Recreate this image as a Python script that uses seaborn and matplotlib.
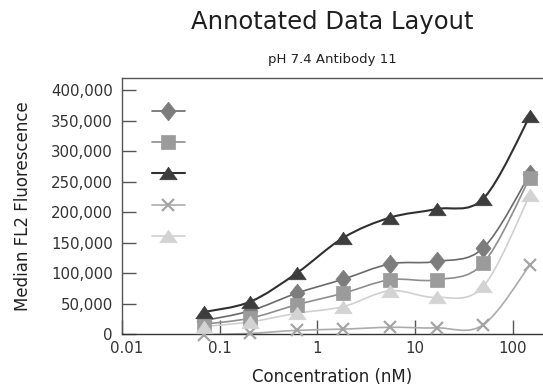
import numpy as np
import pandas as pd
import matplotlib
matplotlib.use("Agg")
import matplotlib.pyplot as plt
from matplotlib.path import Path
from matplotlib.patches import PathPatch
from matplotlib.lines import Line2D
from matplotlib.transforms import ScaledTranslation
import matplotlib.ticker as mticker
import seaborn as sns

# ---- data ----
conc = [0.0686, 0.206, 0.617, 1.85, 5.56, 16.7, 50.0, 150.0]
series_names = ["s1", "s2", "s3", "s4", "s5"]
s1_diamond = [22000, 38000, 67000, 90000, 115000, 119000, 141000, 262000]
s2_square = [16000, 26000, 48000, 67000, 89000, 89000, 116000, 256000]
s3_triangle = [36000, 53000, 100000, 158000, 191000, 205000, 222000, 357000]
s4_cross = [-1000, 1000, 6000, 8000, 11000, 10000, 15000, 113000]
s5_light = [12000, 20000, 34000, 45000, 71000, 60000, 78000, 228000]
x_ticks = [0.01, 0.1, 1, 10, 100]
x_tick_labels = ["0.01", "0.1", "1", "10", "100"]
y_ticks = [0, 50000, 100000, 150000, 200000, 250000, 300000, 350000, 400000]

values = [s1_diamond, s2_square, s3_triangle, s4_cross, s5_light]

# marker shapes (style only)
diamond = [(0, 1), (0.8, 0), (0, -1), (-0.8, 0), (0, 1)]
wide_tri = [(0, 0.72), (1, -0.72), (-1, -0.72), (0, 0.72)]
markers = [diamond, "s", wide_tri, "x", wide_tri]
msizes = [13.5, 9.5, 12.5, 8.8, 12.5]
mcolors = ["#7d7d7d", "#9b9b9b", "#3d3d3d", "#a4a4a4", "#d3d3d3"]
lcolors = ["#6a6a6a", "#8e8e8e", "#303030", "#ababab", "#d0d0d0"]
lwidths = [1.2, 1.2, 1.5, 1.2, 1.2]

df = pd.DataFrame({
    "conc": np.tile(conc, len(values)),
    "value": np.concatenate(values),
    "series": np.repeat(series_names, len(conc)),
})

sns.set_theme(style="white")
plt.rcParams["font.family"] = ["DejaVu Sans"]

fig = plt.figure(figsize=(5.43, 3.87), dpi=100)
ax = fig.add_axes([122 / 543, 1 - 334 / 387, 420 / 543, 256 / 387])
ax.set_xscale("log")


def smooth_path(xs, ys):
    u = np.log10(np.asarray(xs, float))
    v = np.asarray(ys, float)
    n = len(u)
    verts = [(xs[0], ys[0])]
    codes = [Path.MOVETO]
    for i in range(n - 1):
        i0 = max(i - 1, 0)
        i3 = min(i + 2, n - 1)
        c1u = u[i] + (u[i + 1] - u[i0]) / 6
        c1v = v[i] + (v[i + 1] - v[i0]) / 6
        c2u = u[i + 1] - (u[i3] - u[i]) / 6
        c2v = v[i + 1] - (v[i3] - v[i]) / 6
        verts += [(10 ** c1u, c1v), (10 ** c2u, c2v), (xs[i + 1], ys[i + 1])]
        codes += [Path.CURVE4] * 3
    return Path(verts, codes)


handles = []
for k, name in enumerate(series_names):
    sub = df[df["series"] == name]
    patch = PathPatch(smooth_path(list(sub["conc"]), list(sub["value"])),
                      fill=False, edgecolor=lcolors[k], lw=lwidths[k],
                      transform=ax.transData, zorder=2 + k * 0.1)
    ax.add_patch(patch)
    if isinstance(markers[k], str) and markers[k] == "x":
        kw = dict(markeredgecolor=mcolors[k], mew=1.6)
    else:
        kw = dict(markerfacecolor=mcolors[k], markeredgecolor=mcolors[k], mew=0.5)
    sns.lineplot(data=sub, x="conc", y="value", ax=ax, marker=markers[k],
                 markersize=msizes[k], linestyle="none", legend=False,
                 zorder=3 + k * 0.1, clip_on=False, color=mcolors[k], **kw)
    handles.append(Line2D([0], [0], color=lcolors[k], lw=lwidths[k],
                          marker=markers[k], markersize=msizes[k], **kw))

ax.set_xlim(0.01, 200)
ax.set_ylim(0, 420000)
ax.set_xticks(x_ticks)
ax.set_xticklabels(x_tick_labels)
ax.xaxis.set_minor_locator(mticker.NullLocator())
ax.set_yticks(y_ticks)
ax.yaxis.set_major_formatter(mticker.FuncFormatter(lambda v, p: f"{int(v):,}"))

ax.tick_params(axis="both", which="major", bottom=True, left=True,
               direction="in", length=10, width=1, color="#555555",
               labelsize=10.8, labelcolor="#333333")
ax.tick_params(axis="x", pad=5)
ax.tick_params(axis="y", pad=6.5)

# first x label nudged right like the reference
first = ax.xaxis.get_major_ticks()[0].label1
first.set_transform(first.get_transform() + ScaledTranslation(5 / 100, 0, fig.dpi_scale_trans))

for side in ["left", "top", "bottom"]:
    ax.spines[side].set_visible(True)
    ax.spines[side].set_color("#555555")
    ax.spines[side].set_linewidth(1.0)
ax.spines["bottom"].set_color("#333333")
ax.spines["right"].set_visible(False)

ax.set_xlabel("Concentration (nM)", fontsize=12, color="#222222", labelpad=9)
ax.set_ylabel("Median FL2 Fluorescence", fontsize=12, color="#222222", labelpad=14)

leg = ax.legend(handles, [""] * 5, loc="upper left",
                bbox_to_anchor=(0.071, 0.897), frameon=False, fontsize=10,
                handlelength=2.4, handletextpad=0, borderpad=0,
                borderaxespad=0, labelspacing=1.25)

fig.text(332 / 543, 1 - 29 / 387, "Annotated Data Layout", ha="center",
         va="baseline", fontsize=17.5, color="#1e1e1e")
fig.text(332 / 543, 1 - 63 / 387, "pH 7.4 Antibody 11", ha="center",
         va="baseline", fontsize=9.5, color="#222222")

fig.savefig("out.png", dpi=100)
